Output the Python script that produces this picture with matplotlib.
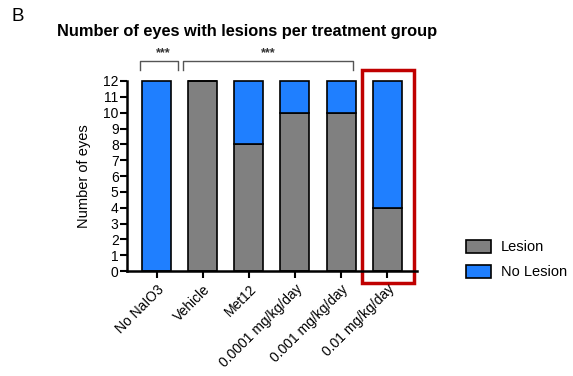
import matplotlib.pyplot as plt
from matplotlib.patches import Rectangle

groups = ["No NaIO3", "Vehicle", "Met12", "0.0001 mg/kg/day",
          "0.001 mg/kg/day", "0.01 mg/kg/day"]
lesion = [0, 12, 8, 10, 10, 4]
no_lesion = [12, 0, 4, 2, 2, 8]

GRAY = "#808080"
BLUE = "#1f7fff"

plt.rcParams["font.family"] = ["Liberation Sans", "DejaVu Sans"]


def bracket(ax, x0, x1, y, drop, label, lx):
    ax.plot([x0, x0, x1, x1], [y - drop, y, y, y - drop],
            color="#555555", lw=1.0, clip_on=False)
    ax.text(lx, y + 0.1, label, ha="center", va="bottom",
            fontsize=9, fontweight="bold", color="#333333")


def main():
    fig = plt.figure(figsize=(5.73, 3.76), dpi=100)
    ax = fig.add_axes([0.2216, 0.279, 0.5061, 0.5056])

    x = range(len(groups))
    ax.bar(x, lesion, width=0.63, color=GRAY, edgecolor="black",
           linewidth=1.2, label="Lesion", clip_on=False)
    ax.bar(x, no_lesion, width=0.63, bottom=lesion, color=BLUE,
           edgecolor="black", linewidth=1.2, label="No Lesion", clip_on=False)

    ax.set_xlim(-0.65, 5.65)
    ax.set_ylim(0, 12)
    ax.set_yticks(range(0, 13))
    ax.set_xticks(list(x))
    ax.set_xticklabels(groups, rotation=45, ha="right",
                       rotation_mode="anchor", fontsize=10)
    ax.tick_params(axis="y", labelsize=10, width=1.5, length=5, pad=1)
    ax.tick_params(axis="x", width=1.5, length=5, pad=3)
    for s in ["top", "right"]:
        ax.spines[s].set_visible(False)
    for s in ["left", "bottom"]:
        ax.spines[s].set_linewidth(1.8)
    ax.set_ylabel("Number of eyes", fontsize=10.5, labelpad=9)

    # significance brackets
    bracket(ax, -0.37, 0.46, 13.27, 0.55, "***", 0.13)
    bracket(ax, 0.57, 4.26, 13.27, 0.55, "***", 2.41)

    # highlight box around the top dose
    ax.add_patch(Rectangle((4.46, -0.76), 1.13, 13.46, fill=False,
                           edgecolor="#c00000", lw=2.5, clip_on=False))

    fig.text(0.02, 0.955, "B", fontsize=13.5, va="center")
    fig.text(0.1, 0.915, "Number of eyes with lesions per treatment group",
             fontsize=11.8, fontweight="bold", va="center")

    fig.legend(loc="center left", bbox_to_anchor=(0.79, 0.31),
               frameon=False, fontsize=10.5, handlelength=1.7,
               handleheight=1.0, handletextpad=0.7, labelspacing=0.7)

    fig.savefig("out.png", dpi=100)


if __name__ == "__main__":
    main()
